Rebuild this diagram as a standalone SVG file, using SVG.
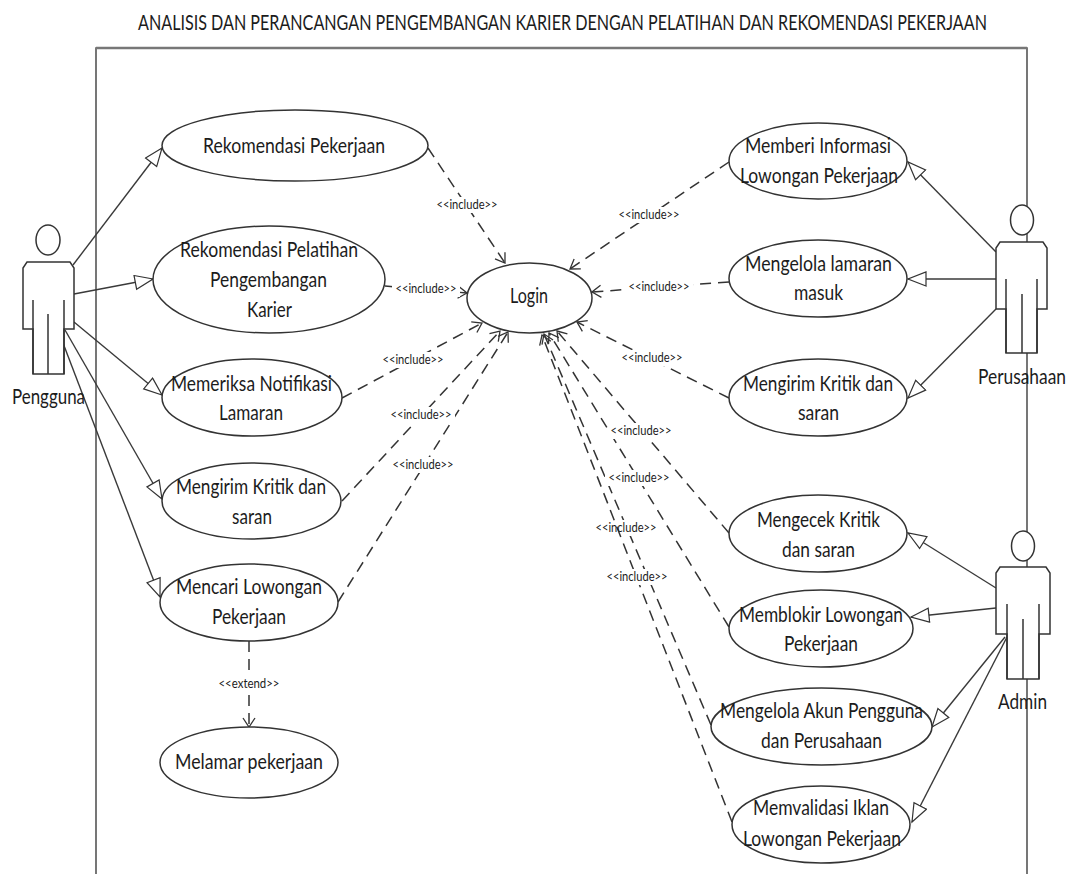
<svg xmlns="http://www.w3.org/2000/svg" width="1071" height="874" viewBox="0 0 1071 874">
<style>
text{font-family:"Lato","Liberation Sans",sans-serif;fill:#1c1c1c}
.t{font-size:22px}
.lb{font-size:13px;text-anchor:middle}
.ttl{font-size:21px}
.uc{fill:#fff;stroke:#333;stroke-width:1.5}
.act{fill:#fff;stroke:#333;stroke-width:1.5}
.leg{fill:none;stroke:#333;stroke-width:1.5}
.g{fill:none;stroke:#3a3a3a;stroke-width:1.4;marker-end:url(#tri)}
.d{fill:none;stroke:#333;stroke-width:1.5;stroke-dasharray:11 7;marker-end:url(#open)}
.m{fill:#fff;stroke:none}
.sys{fill:none;stroke:#555;stroke-width:1.6}
</style>
<defs>
<marker id="tri" markerUnits="userSpaceOnUse" markerWidth="24" markerHeight="20" refX="19" refY="8" orient="auto"><path d="M1,1 L19,8 L1,15 Z" fill="#fff" stroke="#333" stroke-width="1.2"/></marker>
<marker id="open" markerUnits="userSpaceOnUse" markerWidth="14" markerHeight="16" refX="10" refY="7" orient="auto"><path d="M1,1 L10,7 L1,13" fill="none" stroke="#333" stroke-width="1.3"/></marker>
</defs>
<rect width="1071" height="874" fill="#fff"/>
<text class="ttl" transform="translate(138 30) scale(0.75 1)" x="0" y="0" textLength="1132" lengthAdjust="spacingAndGlyphs">ANALISIS DAN PERANCANGAN PENGEMBANGAN KARIER DENGAN PELATIHAN DAN REKOMENDASI PEKERJAAN</text>
<path class="sys" d="M96,874 V48 H1027 V874"/>
<path d="M96,48 H1027" stroke="#777" stroke-width="2.4" fill="none"/>

<g id="connectors">
<path class="g" d="M73,265 L162,148"/>
<path class="g" d="M74,294 L153,279"/>
<path class="g" d="M74,322 L162,395"/>
<path class="g" d="M65,330 L162,499"/>
<path class="g" d="M63,343 L160,597"/>
<path class="g" d="M996,252 L908,162"/>
<path class="g" d="M996,279 L908,279"/>
<path class="g" d="M996,309 L908,398"/>
<path class="g" d="M996,588 L908,533"/>
<path class="g" d="M996,608 L911,617"/>
<path class="g" d="M1005,637 L932,727"/>
<path class="g" d="M1007,637 L912,822"/>
<path class="d" d="M428,148 L505,263"/>
<path class="d" d="M385,286 L467,293"/>
<path class="d" d="M342,398 L482,323"/>
<path class="d" d="M342,501 L500,331"/>
<path class="d" d="M338,602 L508,332"/>
<path class="d" d="M729,162 L570,269"/>
<path class="d" d="M729,282 L592,292"/>
<path class="d" d="M729,398 L577,322"/>
<path class="d" d="M729,533 L557,331"/>
<path class="d" d="M729,627 L549,333"/>
<path class="d" d="M711,725 L544,334"/>
<path class="d" d="M249,641 L249,727"/>
<rect class="m" x="588" y="520" width="76" height="16"/>
<path class="d" d="M732,822 L542,335"/>
<rect class="m" x="433" y="197" width="68" height="16"/>
<rect class="m" x="392" y="281" width="68" height="16"/>
<rect class="m" x="379" y="352" width="68" height="16"/>
<rect class="m" x="387" y="407" width="68" height="16"/>
<rect class="m" x="389" y="457" width="68" height="16"/>
<rect class="m" x="615" y="207" width="68" height="16"/>
<rect class="m" x="625" y="279" width="68" height="16"/>
<rect class="m" x="618" y="350" width="68" height="16"/>
<rect class="m" x="610" y="423" width="68" height="16"/>
<rect class="m" x="605" y="470" width="68" height="16"/>
<rect class="m" x="603" y="569" width="68" height="16"/>
<rect class="m" x="217" y="676" width="64" height="16"/>
<text class="lb" x="467" y="209" textLength="61" lengthAdjust="spacingAndGlyphs">&lt;&lt;include&gt;&gt;</text>
<text class="lb" x="426" y="293" textLength="61" lengthAdjust="spacingAndGlyphs">&lt;&lt;include&gt;&gt;</text>
<text class="lb" x="413" y="364" textLength="61" lengthAdjust="spacingAndGlyphs">&lt;&lt;include&gt;&gt;</text>
<text class="lb" x="421" y="419" textLength="61" lengthAdjust="spacingAndGlyphs">&lt;&lt;include&gt;&gt;</text>
<text class="lb" x="423" y="469" textLength="61" lengthAdjust="spacingAndGlyphs">&lt;&lt;include&gt;&gt;</text>
<text class="lb" x="649" y="219" textLength="61" lengthAdjust="spacingAndGlyphs">&lt;&lt;include&gt;&gt;</text>
<text class="lb" x="659" y="291" textLength="61" lengthAdjust="spacingAndGlyphs">&lt;&lt;include&gt;&gt;</text>
<text class="lb" x="652" y="362" textLength="61" lengthAdjust="spacingAndGlyphs">&lt;&lt;include&gt;&gt;</text>
<text class="lb" x="641" y="435" textLength="61" lengthAdjust="spacingAndGlyphs">&lt;&lt;include&gt;&gt;</text>
<text class="lb" x="639" y="482" textLength="61" lengthAdjust="spacingAndGlyphs">&lt;&lt;include&gt;&gt;</text>
<text class="lb" x="626" y="532" textLength="61" lengthAdjust="spacingAndGlyphs">&lt;&lt;include&gt;&gt;</text>
<text class="lb" x="637" y="581" textLength="61" lengthAdjust="spacingAndGlyphs">&lt;&lt;include&gt;&gt;</text>
<text class="lb" x="249" y="688" textLength="61" lengthAdjust="spacingAndGlyphs">&lt;&lt;extend&gt;&gt;</text>
</g>

<g id="uc-rekomendasi-pekerjaan"><ellipse class="uc" cx="295" cy="145.5" rx="133" ry="35.5"/><text class="t" x="203" y="153" textLength="182" lengthAdjust="spacingAndGlyphs">Rekomendasi Pekerjaan</text></g>
<g id="uc-rekomendasi-pelatihan"><ellipse class="uc" cx="269" cy="279.5" rx="116" ry="53.5"/><text class="t" x="180" y="257" textLength="178" lengthAdjust="spacingAndGlyphs">Rekomendasi Pelatihan</text><text class="t" x="210" y="287" textLength="117" lengthAdjust="spacingAndGlyphs">Pengembangan</text><text class="t" x="247" y="317" textLength="45" lengthAdjust="spacingAndGlyphs">Karier</text></g>
<g id="uc-memeriksa"><ellipse class="uc" cx="252" cy="397.5" rx="90" ry="38.5"/><text class="t" x="171" y="391" textLength="161" lengthAdjust="spacingAndGlyphs">Memeriksa Notifikasi</text><text class="t" x="219" y="420" textLength="64" lengthAdjust="spacingAndGlyphs">Lamaran</text></g>
<g id="uc-mengirim-pengguna"><ellipse class="uc" cx="251.5" cy="501" rx="89.5" ry="38"/><text class="t" x="176" y="494" textLength="150" lengthAdjust="spacingAndGlyphs">Mengirim Kritik dan</text><text class="t" x="232" y="524" textLength="40" lengthAdjust="spacingAndGlyphs">saran</text></g>
<g id="uc-mencari"><ellipse class="uc" cx="249" cy="602.5" rx="89" ry="38.5"/><text class="t" x="176" y="594" textLength="146" lengthAdjust="spacingAndGlyphs">Mencari Lowongan</text><text class="t" x="212" y="624" textLength="74" lengthAdjust="spacingAndGlyphs">Pekerjaan</text></g>
<g id="uc-melamar"><ellipse class="uc" cx="249" cy="762.5" rx="89" ry="35.5"/><text class="t" x="175" y="769" textLength="148" lengthAdjust="spacingAndGlyphs">Melamar pekerjaan</text></g>
<g id="uc-login"><ellipse class="uc" cx="529.5" cy="298" rx="62.5" ry="35"/><text class="t" x="510" y="303" textLength="38" lengthAdjust="spacingAndGlyphs">Login</text></g>
<g id="uc-memberi"><ellipse class="uc" cx="818" cy="161" rx="89" ry="38"/><text class="t" x="745" y="153" textLength="146" lengthAdjust="spacingAndGlyphs">Memberi Informasi</text><text class="t" x="740" y="183" textLength="158" lengthAdjust="spacingAndGlyphs">Lowongan Pekerjaan</text></g>
<g id="uc-mengelola-lamaran"><ellipse class="uc" cx="818" cy="278.5" rx="89" ry="38.5"/><text class="t" x="745" y="271" textLength="147" lengthAdjust="spacingAndGlyphs">Mengelola lamaran</text><text class="t" x="794" y="300" textLength="49" lengthAdjust="spacingAndGlyphs">masuk</text></g>
<g id="uc-mengirim-perusahaan"><ellipse class="uc" cx="818" cy="397.5" rx="89" ry="38.5"/><text class="t" x="743" y="391" textLength="150" lengthAdjust="spacingAndGlyphs">Mengirim Kritik dan</text><text class="t" x="798" y="420" textLength="41" lengthAdjust="spacingAndGlyphs">saran</text></g>
<g id="uc-mengecek"><ellipse class="uc" cx="818" cy="533.5" rx="89" ry="38.5"/><text class="t" x="757" y="527" textLength="123" lengthAdjust="spacingAndGlyphs">Mengecek Kritik</text><text class="t" x="782" y="557" textLength="73" lengthAdjust="spacingAndGlyphs">dan saran</text></g>
<g id="uc-memblokir"><ellipse class="uc" cx="821" cy="628.5" rx="92" ry="38.5"/><text class="t" x="739" y="622" textLength="164" lengthAdjust="spacingAndGlyphs">Memblokir Lowongan</text><text class="t" x="784" y="651" textLength="74" lengthAdjust="spacingAndGlyphs">Pekerjaan</text></g>
<g id="uc-mengelola-akun"><ellipse class="uc" cx="821.5" cy="726.5" rx="110.5" ry="38.5"/><text class="t" x="720" y="718" textLength="203" lengthAdjust="spacingAndGlyphs">Mengelola Akun Pengguna</text><text class="t" x="761" y="748" textLength="121" lengthAdjust="spacingAndGlyphs">dan Perusahaan</text></g>
<g id="uc-memvalidasi"><ellipse class="uc" cx="821" cy="824.5" rx="89" ry="38.5"/><text class="t" x="753" y="815" textLength="136" lengthAdjust="spacingAndGlyphs">Memvalidasi Iklan</text><text class="t" x="743" y="846" textLength="158" lengthAdjust="spacingAndGlyphs">Lowongan Pekerjaan</text></g>

<g id="actor-pengguna"><ellipse class="act" cx="48" cy="240" rx="12" ry="15"/><path class="act" d="M27,262 H70 L74,268 V329 H64 V374 H33 V329 H23 V268 Z"/><path class="leg" d="M33,300 V374 M64,300 V374 M48,314 V374"/><text class="t" x="12" y="404" textLength="73" lengthAdjust="spacingAndGlyphs">Pengguna</text></g>
<g id="actor-perusahaan"><ellipse class="act" cx="1022" cy="220" rx="11.5" ry="15"/><path class="act" d="M1000,242 H1043 L1047,248 V309 H1037 V353 H1006 V309 H996 V248 Z"/><path class="leg" d="M1006,279 V353 M1037,279 V353 M1022,294 V353"/><text class="t" transform="translate(978 384) scale(0.8 1)" x="0" y="0" textLength="110" lengthAdjust="spacingAndGlyphs">Perusahaan</text></g>
<g id="actor-admin"><ellipse class="act" cx="1023" cy="546" rx="11.5" ry="15"/><path class="act" d="M1000,567 H1046 L1050,573 V634 H1039 V679 H1007 V634 H996 V573 Z"/><path class="leg" d="M1007,604 V679 M1039,604 V679 M1023,619 V679"/><text class="t" x="998" y="709" textLength="49" lengthAdjust="spacingAndGlyphs">Admin</text></g>
</svg>
